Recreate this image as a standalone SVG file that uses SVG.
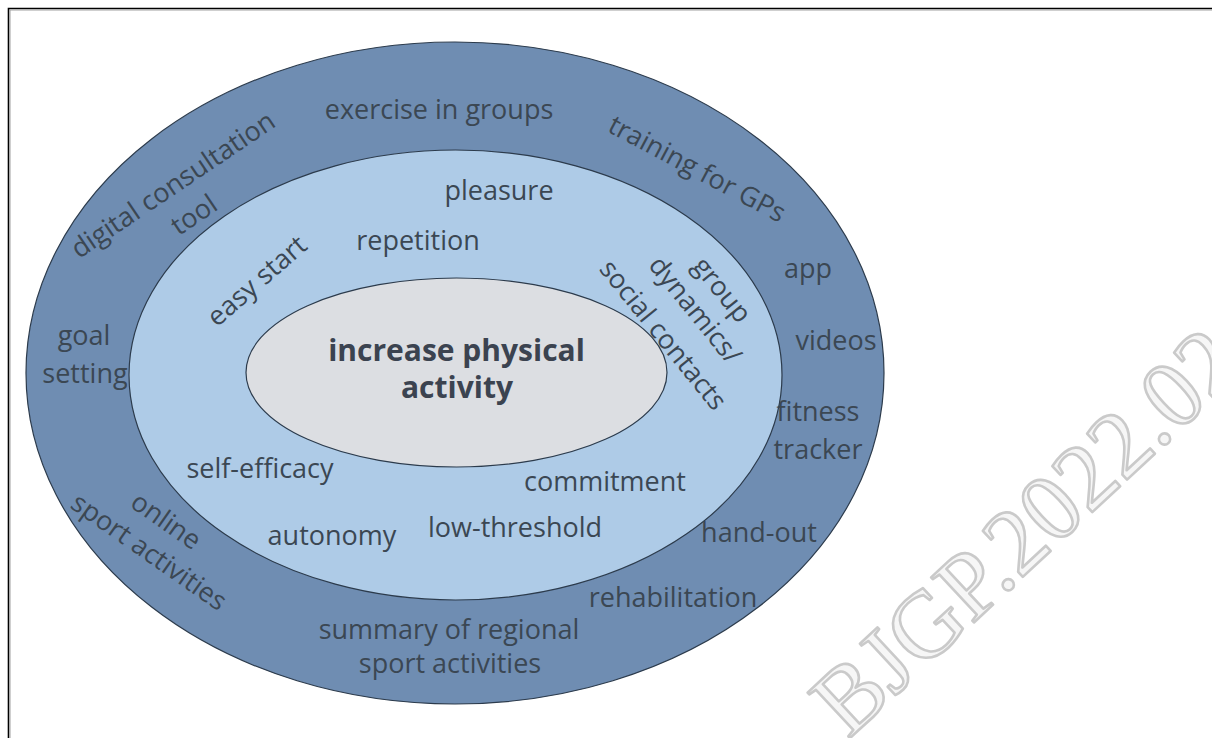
<svg xmlns="http://www.w3.org/2000/svg" width="1212" height="738" viewBox="0 0 1212 738">
  <style>
    .ring { stroke: #2c3b4c; stroke-width: 1.2; }
    .lbl { font-family: "Open Sans", "Noto Sans", sans-serif; font-size: 27px; fill: #3b4753; text-anchor: middle; }
    .core { font-family: "Open Sans", "Noto Sans", sans-serif; font-size: 30px; font-weight: bold; fill: #3b4350; text-anchor: middle; }
    .wm { font-family: "Liberation Serif", "Times New Roman", serif; font-size: 95px; fill: #f6f6f6; stroke: #cacaca; stroke-width: 2.6; stroke-linejoin: round; }
  </style>

  <rect x="0" y="0" width="1212" height="738" fill="#ffffff"/>

  <!-- page frame -->
  <g id="frame" fill="none">
    <path d="M8.5 738 V8.5 H1212" stroke="#000000" stroke-width="1.6"/>
    <path d="M10 738 V10 H1212" stroke="#a0a0a0" stroke-width="1"/>
  </g>

  <!-- outer ring: tools and offers -->
  <g id="outer">
    <ellipse class="ring" cx="455" cy="373" rx="429" ry="331" fill="#6f8db2"/>
  </g>

  <!-- middle ring: motivational factors -->
  <g id="middle">
    <ellipse class="ring" cx="455.5" cy="375" rx="326.5" ry="225" fill="#aecbe7"/>
  </g>

  <!-- core goal -->
  <g id="core">
    <ellipse class="ring" cx="456.5" cy="372.5" rx="210.5" ry="94.5" fill="#dcdee2"/>
    <text class="core" x="456.5" y="361">increase physical</text>
    <text class="core" x="457" y="398">activity</text>
  </g>

  <!-- outer ring labels -->
  <g id="outer-labels">
    <text class="lbl" x="439" y="119">exercise in groups</text>
    <text class="lbl" transform="translate(173,185) rotate(-34)" y="9">digital consultation</text>
    <text class="lbl" transform="translate(194,215) rotate(-34)" y="9">tool</text>
    <text class="lbl" transform="translate(697,169) rotate(28)" y="9">training for GPs</text>
    <text class="lbl" x="808" y="278">app</text>
    <text class="lbl" x="836" y="350">videos</text>
    <text class="lbl" x="818" y="421">fitness</text>
    <text class="lbl" x="818" y="459">tracker</text>
    <text class="lbl" x="84" y="345">goal</text>
    <text class="lbl" x="85" y="383">setting</text>
    <text class="lbl" transform="translate(166,521) rotate(35)" y="9">online</text>
    <text class="lbl" transform="translate(149,552) rotate(35)" y="9">sport activities</text>
    <text class="lbl" x="759" y="542">hand-out</text>
    <text class="lbl" x="673" y="607">rehabilitation</text>
    <text class="lbl" x="449" y="639">summary of regional</text>
    <text class="lbl" x="450" y="673">sport activities</text>
  </g>

  <!-- middle ring labels -->
  <g id="middle-labels">
    <text class="lbl" x="499" y="200">pleasure</text>
    <text class="lbl" x="418" y="250">repetition</text>
    <text class="lbl" transform="translate(257,281) rotate(-41)" y="9">easy start</text>
    <text class="lbl" transform="translate(722,290) rotate(51)" y="9">group</text>
    <text class="lbl" transform="translate(695,310) rotate(51)" y="9">dynamics/</text>
    <text class="lbl" transform="translate(663,335) rotate(51)" y="9">social contacts</text>
    <text class="lbl" x="260" y="478">self-efficacy</text>
    <text class="lbl" x="605" y="491">commitment</text>
    <text class="lbl" x="332" y="545">autonomy</text>
    <text class="lbl" x="515" y="537">low-threshold</text>
  </g>

  <!-- journal watermark -->
  <g id="watermark">
    <text class="wm" transform="translate(848,740) rotate(-43)">BJGP.2022.021</text>
  </g>
</svg>
